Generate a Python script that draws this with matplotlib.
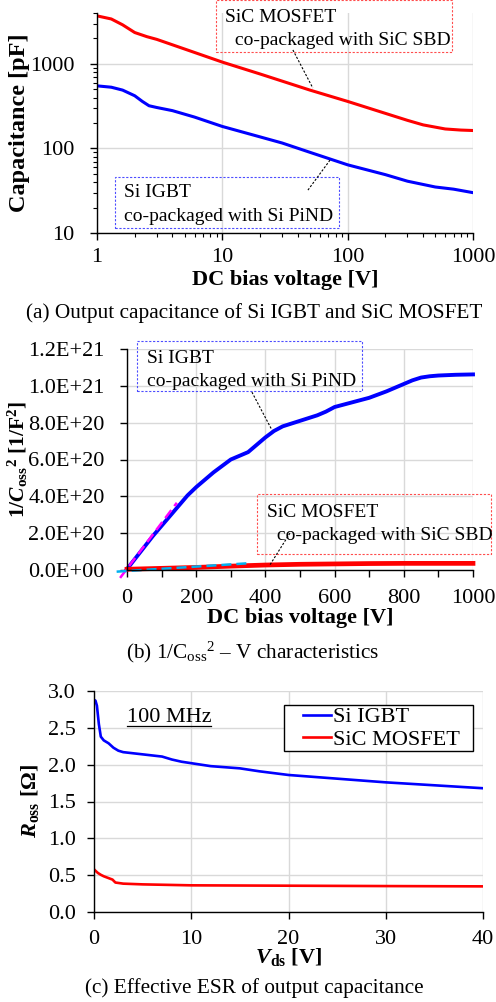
import numpy as np
import matplotlib
matplotlib.use("Agg")
import matplotlib.pyplot as plt
from matplotlib.patches import Rectangle
from matplotlib.lines import Line2D
from matplotlib.ticker import FuncFormatter, MultipleLocator, LogLocator, NullFormatter

# (a) output capacitance vs DC bias (log-log)
igbt_v = [1, 1.3, 1.6, 2.0, 2.3, 2.6, 3, 4, 6, 10, 20, 30, 50, 100, 200, 300, 500, 700, 1000]
igbt_c = [550, 530, 490, 420, 360, 320, 305, 280, 235, 182, 137, 116, 90, 64, 49, 41, 35, 33, 30]
sic_v = [1, 1.3, 1.6, 2.0, 2.5, 3, 5, 10, 20, 50, 100, 200, 300, 400, 600, 800, 1000]
sic_c = [3700, 3400, 2900, 2350, 2100, 1950, 1500, 1050, 760, 490, 360, 260, 215, 190, 170, 165, 163]

# (b) 1/Coss^2 vs V  (values in 1e20 1/F^2)
igbt_v2 = [0, 25, 50, 75, 100, 125, 150, 175, 200, 225, 250, 275, 300, 325, 350, 375, 400, 425,
           450, 475, 500, 525, 550, 575, 600, 650, 700, 750, 800, 825, 850, 875, 900, 950, 1000]
igbt_inv = [0.05, 0.65, 1.25, 1.85, 2.4, 2.95, 3.5, 4.05, 4.5, 4.9, 5.3, 5.65, 6.0, 6.2, 6.4, 6.8,
            7.2, 7.55, 7.8, 7.95, 8.1, 8.25, 8.4, 8.6, 8.85, 9.1, 9.35, 9.7, 10.1, 10.3, 10.45,
            10.52, 10.56, 10.6, 10.62]
sic_v2 = [0, 100, 200, 300, 400, 500, 600, 700, 800, 900, 1000]
sic_inv = [0.04, 0.09, 0.14, 0.21, 0.27, 0.31, 0.33, 0.35, 0.36, 0.36, 0.36]
igbt_fit_v = [-20, 144]
igbt_fit_inv = [-0.43, 3.65]
sic_fit_v = [-30, 346]
sic_fit_inv = [-0.09, 0.36]

# (c) Ross vs Vds at 100 MHz
igbt_vds = [0, 0.15, 0.3, 0.5, 0.7, 1.0, 1.5, 2.0, 2.5, 3, 5, 7, 8, 9, 10, 12, 15, 17, 20, 25, 30, 35, 40]
igbt_r = [2.88, 2.87, 2.80, 2.55, 2.38, 2.33, 2.29, 2.23, 2.19, 2.17, 2.14, 2.11, 2.07, 2.04, 2.02,
          1.98, 1.95, 1.91, 1.86, 1.81, 1.76, 1.72, 1.68]
sic_vds = [0, 0.15, 0.4, 0.7, 1.0, 1.5, 1.9, 2.2, 3, 5, 10, 20, 30, 40]
sic_r = [0.58, 0.56, 0.53, 0.505, 0.485, 0.46, 0.44, 0.40, 0.385, 0.375, 0.362, 0.357, 0.352, 0.348]

blue = "#0000FF"
red = "#FF0000"
grid = "#D9D9D9"
fs = 16

plt.rcParams["font.family"] = ["Liberation Serif", "DejaVu Serif"]
plt.rcParams["mathtext.fontset"] = "custom"
plt.rcParams["mathtext.rm"] = "Liberation Serif"
plt.rcParams["mathtext.it"] = "Liberation Serif:italic"
plt.rcParams["mathtext.bf"] = "Liberation Serif:bold"
plt.rcParams["mathtext.bfit"] = "Liberation Serif:italic:bold"


def style_axes(ax, xpad=7, ypad=10):
    for s in ["top", "right"]:
        ax.spines[s].set_visible(False)
    for s in ["left", "bottom"]:
        ax.spines[s].set_linewidth(1.0)
    ax.grid(True, which="major", color=grid, linewidth=1.0)
    ax.set_axisbelow(True)
    ax.tick_params(which="major", direction="out", length=5, width=1, labelsize=fs)
    ax.tick_params(which="minor", direction="out", length=3, width=0.8)
    ax.tick_params(axis="x", pad=xpad)
    ax.tick_params(axis="y", pad=ypad)


def note_box(ax, x0, y0, x1, y1, color, lines, leader):
    ax.add_patch(Rectangle((x0, y0), x1 - x0, y1 - y0, transform=ax.transAxes, fill=False,
                           edgecolor=color, linewidth=0.8, linestyle=(0, (2, 1.5)), clip_on=False))
    for (tx, ty, s) in lines:
        ax.text(tx, ty, s, transform=ax.transAxes, fontsize=14, va="center", ha="left")
    ax.add_line(Line2D(leader[0], leader[1], transform=ax.transAxes, color="black",
                       linewidth=0.8, linestyle=(0, (2, 1.5)), clip_on=False))


fig = plt.figure(figsize=(4.96, 10.02), dpi=100)

# ---- (a)
ax1 = fig.add_axes([97 / 496, 1 - 233 / 1002, 376 / 496, 220 / 1002])
ax1.plot(sic_v, sic_c, color=red, linewidth=2.2)
ax1.plot(igbt_v, igbt_c, color=blue, linewidth=2.2)
ax1.set_xscale("log")
ax1.set_yscale("log")
ax1.set_xlim(1, 1000)
ax1.set_ylim(10, 4000)
style_axes(ax1, xpad=6, ypad=11)
ax1.xaxis.set_minor_locator(LogLocator(base=10, subs=np.arange(2, 10)))
ax1.yaxis.set_minor_locator(LogLocator(base=10, subs=np.arange(2, 10)))
ax1.xaxis.set_minor_formatter(NullFormatter())
ax1.yaxis.set_minor_formatter(NullFormatter())
ax1.xaxis.set_major_formatter(FuncFormatter(lambda v, _: f"{v:g}"))
ax1.yaxis.set_major_formatter(FuncFormatter(lambda v, _: f"{v:g}"))
ax1.set_xlabel("DC bias voltage [V]", fontsize=16, fontweight="bold", labelpad=2)
ax1.set_ylabel("Capacitance [pF]", fontsize=17.5, fontweight="bold", labelpad=0)
note_box(ax1, 0.3165, 0.8227, 0.944, 1.059, "#FF4D4D",
         [(0.340, 0.98, "SiC MOSFET"), (0.354, 0.877, " co-packaged with SiC SBD")],
         ([0.521, 0.574], [0.832, 0.659]))
note_box(ax1, 0.048, 0.023, 0.644, 0.2545, "#4D4DFF",
         [(0.072, 0.182, "Si IGBT"), (0.072, 0.073, "co-packaged with Si PiND")],
         ([0.561, 0.620], [0.195, 0.332]))
fig.text(254 / 496, 1 - 313 / 1002, "(a) Output capacitance of Si IGBT and SiC MOSFET",
         fontsize=15.3, ha="center", va="center")

# ---- (b)
ax2 = fig.add_axes([127 / 496, 1 - 570 / 1002, 346 / 496, 221 / 1002])
ax2.plot(igbt_v2, np.array(igbt_inv) * 1e20, color=blue, linewidth=2.8, clip_on=False)
ax2.plot(sic_v2, np.array(sic_inv) * 1e20, color=red, linewidth=3.4, clip_on=False)
ax2.plot(igbt_fit_v, np.array(igbt_fit_inv) * 1e20, color="#FF00FF", linewidth=1.8,
         linestyle=(0, (4, 2)), clip_on=False)
ax2.plot(sic_fit_v, np.array(sic_fit_inv) * 1e20, color="#00B0F0", linewidth=1.8,
         linestyle=(0, (4, 2)), clip_on=False)
ax2.set_xlim(0, 1000)
ax2.set_ylim(0, 1.2e21)
style_axes(ax2, xpad=9, ypad=11)
ax2.xaxis.set_major_locator(MultipleLocator(200))
ax2.xaxis.set_minor_locator(MultipleLocator(100))
ax2.yaxis.set_major_locator(MultipleLocator(2e20))
ax2.tick_params(axis="x", which="minor", length=5, width=1)
ax2.yaxis.set_major_formatter(FuncFormatter(lambda v, _: f"{v:.1E}"))
ax2.yaxis.get_offset_text().set_visible(False)
ax2.set_xlabel("DC bias voltage [V]", fontsize=16, fontweight="bold", labelpad=0)
ax2.set_ylabel(r"1/$\mathbfit{C}_{\mathbf{oss}}$$^{\mathbf{2}}$ [1/F$^{\mathbf{2}}$]",
               fontsize=15.5, fontweight="bold", labelpad=-1)
note_box(ax2, 0.0289, 0.81, 0.679, 1.036, "#4D4DFF",
         [(0.0578, 0.959, "Si IGBT"), (0.0578, 0.855, "co-packaged with Si PiND")],
         ([0.361, 0.419], [0.805, 0.633]))
note_box(ax2, 0.3757, 0.0724, 1.052, 0.344, "#FF4D4D",
         [(0.405, 0.262, "SiC MOSFET"), (0.419, 0.158, " co-packaged with SiC SBD")],
         ([0.471, 0.413], [0.167, 0.0226]))
fig.text(253 / 496, 1 - 652 / 1002,
         r"(b) 1/C$_{\mathregular{oss}}$$^{\mathregular{2}}$ – V characteristics",
         fontsize=15.3, ha="center", va="center")

# ---- (c)
ax3 = fig.add_axes([94 / 496, 1 - 912 / 1002, 389 / 496, 221 / 1002])
ax3.plot(igbt_vds, igbt_r, color=blue, linewidth=1.9, label="Si IGBT")
ax3.plot(sic_vds, sic_r, color=red, linewidth=1.9, label="SiC MOSFET")
ax3.set_xlim(0, 40)
ax3.set_ylim(0, 3.0)
style_axes(ax3, xpad=8, ypad=8)
ax3.xaxis.set_major_locator(MultipleLocator(10))
ax3.yaxis.set_major_locator(MultipleLocator(0.5))
ax3.yaxis.set_major_formatter(FuncFormatter(lambda v, _: f"{v:.1f}"))
ax3.set_xlabel(r"$\mathbfit{V}_{\mathbf{ds}}$ [V]", fontsize=16, fontweight="bold", labelpad=-2)
ax3.set_ylabel(r"$\mathbfit{R}_{\mathbf{oss}}$ [Ω]", fontsize=16, fontweight="bold", labelpad=5)
ax3.add_patch(Rectangle((0.488, 0.7285), 0.486, 0.2085, transform=ax3.transAxes, fill=True,
                        facecolor="white", edgecolor="black", linewidth=1.0, zorder=4))
leg = ax3.legend(loc="upper left", bbox_to_anchor=(0.537, 0.928), borderaxespad=0,
                 fontsize=16, frameon=False, handlelength=1.25, handletextpad=0.1,
                 borderpad=0, labelspacing=0.08)
leg.set_zorder(5)
ax3.text(0.0848, 0.882, "100 MHz", transform=ax3.transAxes, fontsize=16, va="center", ha="left")
ax3.add_line(Line2D([0.0848, 0.301], [0.842, 0.842], transform=ax3.transAxes,
                    color="black", linewidth=0.9))
fig.text(254 / 496, 1 - 988 / 1002, "(c) Effective ESR of output capacitance",
         fontsize=15.3, ha="center", va="center")

fig.savefig("out.png", dpi=100)
